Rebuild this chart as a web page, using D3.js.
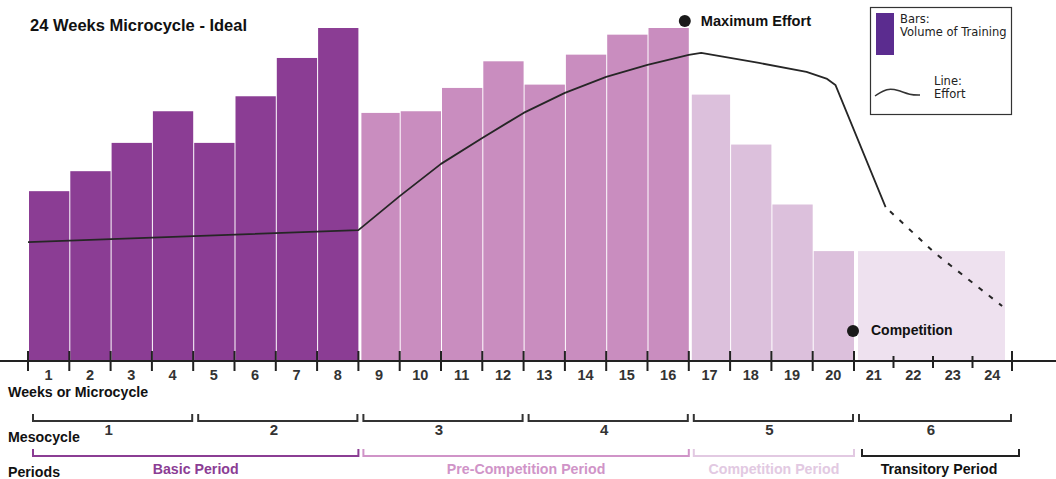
<!DOCTYPE html>
<html>
<head>
<meta charset="utf-8">
<script src="https://cdn.jsdelivr.net/npm/d3@7/dist/d3.min.js"></script>
<style>
  html, body { margin: 0; padding: 0; background: #fff; }
  svg { display: block; }
  text { font-family: "Liberation Sans", Arial, sans-serif; }
</style>
</head>
<body>
<svg id="chart" width="1056" height="479"></svg>
<script>
// ---- data ----
const weeks = d3.range(1, 25);
const volume = [51, 57, 65.5, 75, 65.5, 79.5, 91, 100,
                74.5, 75, 82, 90, 83, 92, 98, 100,
                80, 65, 47, 33,
                33, 33, 33, 33];
// effort line: [week position, relative value]
const effortSolid = [[0, 35.7], [8, 39.3], [9, 49.5], [10, 59.2], [11, 67], [12, 74.5],
                     [13, 80.5], [14, 85.3], [15, 88.9], [16, 91.9], [16.3, 92.5],
                     [17.7, 89.5], [18.85, 86.8], [19.35, 84.7], [19.55, 82.9], [20.8, 46.2]];
const effortDashed = [[20.8, 46.2], [22.05, 32.4], [23.75, 16.5]];
const periodNames = ["Basic Period", "Pre-Competition Period", "Competition Period", "Transitory Period"];
const periodStart = [0, 8, 16, 20];
const periodEnd = [8, 16, 20, 24];
const periodColors = ["#8B3D94", "#C98DBF", "#DCC0DC", "#EEE1EF"];
const periodTextColors = ["#8B3D94", "#D094C8", "#E2C9E2", "#111111"];
const mesoLabels = ["1", "2", "3", "4", "5", "6"];
const mesoStart = [0, 4, 8, 12, 16, 20];
const mesoEnd = [4, 8, 12, 16, 20, 24];

// ---- scales ----
const svg = d3.select("#chart");
const x = d3.scaleLinear().domain([0, 20, 24]).range([28, 854, 1012]);
const y = d3.scaleLinear().domain([0, 100]).range([361, 28]);
const periodOf = w => periodStart.findIndex((s, i) => w > s && w <= periodEnd[i]);

// ---- bars ----
const mainWeeks = weeks.filter(w => w <= 20);
svg.append("g").selectAll("rect").data(mainWeeks).join("rect")
  .attr("x", w => x(w - 1) + (periodStart.includes(w - 1) && w > 1 ? 3 : 1))
  .attr("width", w => x(w) - x(w - 1) - 1 - (periodStart.includes(w - 1) && w > 1 ? 2 : 0))
  .attr("y", w => y(volume[w - 1]))
  .attr("height", w => y(0) - y(volume[w - 1]))
  .attr("fill", w => periodColors[periodOf(w)]);
// transitory block (weeks 21-24 merged)
const transWeeks = weeks.filter(w => w > 20);
svg.append("rect")
  .attr("x", x(20) + 4)
  .attr("width", x(24) - x(20) - 11)
  .attr("y", y(d3.max(transWeeks, w => volume[w - 1])))
  .attr("height", y(0) - y(d3.max(transWeeks, w => volume[w - 1])))
  .attr("fill", periodColors[3]);

// ---- effort line ----
const line = d3.line().x(d => x(d[0])).y(d => y(d[1])).curve(d3.curveLinear);
svg.append("path").datum(effortSolid).attr("d", line)
  .attr("fill", "none").attr("stroke", "#262626").attr("stroke-width", 1.8)
  .attr("stroke-linejoin", "round");
svg.append("path").datum(effortDashed).attr("d", line)
  .attr("fill", "none").attr("stroke", "#262626").attr("stroke-width", 2)
  .attr("stroke-dasharray", "5,8").attr("stroke-dashoffset", -6);

// ---- x axis ----
svg.append("line").attr("x1", 0).attr("x2", 1056).attr("y1", 361).attr("y2", 361)
  .attr("stroke", "#222").attr("stroke-width", 2);
const boundaries = d3.range(0, 25);
svg.append("g").selectAll("line").data(boundaries).join("line")
  .attr("x1", d => x(d)).attr("x2", d => x(d))
  .attr("y1", d => (d > 20 && d < 24) ? 356 : 351)
  .attr("y2", d => (d > 20 && d < 24) ? 368 : 371)
  .attr("stroke", "#222").attr("stroke-width", 2);
svg.append("g").selectAll("text").data(weeks).join("text")
  .attr("x", w => (x(w - 1) + x(w)) / 2).attr("y", 380)
  .attr("text-anchor", "middle").attr("font-size", 14.5).attr("font-weight", "bold")
  .attr("fill", "#333").text(w => w);

// ---- row labels ----
const rowLabels = [["Weeks or Microcycle", 397], ["Mesocycle", 442], ["Periods", 477]];
svg.append("g").selectAll("text").data(rowLabels).join("text")
  .attr("x", 8).attr("y", d => d[1]).attr("font-size", 14.2).attr("font-weight", "bold")
  .attr("fill", "#111").text(d => d[0]);

// ---- mesocycle brackets ----
const bracket = (x0, x1, yb, h) => `M${x0},${yb - h}V${yb}H${x1}V${yb - h}`;
const meso = svg.append("g");
mesoLabels.forEach((m, i) => {
  const x0 = x(mesoStart[i]) + 5, x1 = x(mesoEnd[i]) - 1;
  meso.append("path").attr("d", bracket(x0, x1, 421, 7))
    .attr("fill", "none").attr("stroke", "#333").attr("stroke-width", 2);
  meso.append("text").attr("x", (x0 + x1) / 2 - 4).attr("y", 435)
    .attr("text-anchor", "middle").attr("font-size", 15).attr("font-weight", "bold")
    .attr("fill", "#333").text(m);
});

// ---- period brackets ----
const per = svg.append("g");
periodNames.forEach((p, i) => {
  const x0 = x(periodStart[i]) + 5, x1 = x(periodEnd[i]) + (i === 3 ? 7 : 0);
  per.append("path").attr("d", bracket(x0 + (i === 3 ? 3 : 0), x1, 456, 7))
    .attr("fill", "none").attr("stroke", i === 3 ? "#222" : periodTextColors[i]).attr("stroke-width", 2);
  per.append("text").attr("x", (x0 + x1) / 2).attr("y", 474)
    .attr("text-anchor", "middle").attr("font-size", 14.2).attr("font-weight", "bold")
    .attr("fill", periodTextColors[i]).text(p);
});

// ---- title ----
svg.append("text").attr("x", 30).attr("y", 31).attr("font-size", 16.5).attr("font-weight", "bold")
  .attr("fill", "#111").text("24 Weeks Microcycle - Ideal");

// ---- annotations ----
svg.append("circle").attr("cx", x(16) - 4).attr("cy", 21).attr("r", 6).attr("fill", "#1a1a1a");
svg.append("text").attr("x", x(16) + 12).attr("y", 26).attr("font-size", 14.6).attr("font-weight", "bold")
  .attr("fill", "#111").text("Maximum Effort");
svg.append("circle").attr("cx", x(20) - 1).attr("cy", 331).attr("r", 6).attr("fill", "#1a1a1a");
svg.append("text").attr("x", x(20) + 17).attr("y", 335).attr("font-size", 14).attr("font-weight", "bold")
  .attr("fill", "#111").text("Competition");

// ---- legend ----
const lg = svg.append("g");
lg.append("rect").attr("x", 870.5).attr("y", 7.5).attr("width", 141).attr("height", 107)
  .attr("fill", "#fff").attr("stroke", "#333").attr("stroke-width", 1.2);
lg.append("rect").attr("x", 876).attr("y", 13).attr("width", 18).attr("height", 42).attr("fill", "#5B2C8F");
const lgFont = "'DejaVu Sans', Verdana, sans-serif";
lg.append("text").attr("x", 900).attr("y", 23).attr("font-size", 11.5).style("font-family", lgFont)
  .attr("fill", "#222").text("Bars:");
lg.append("text").attr("x", 900).attr("y", 36).attr("font-size", 11.5).style("font-family", lgFont)
  .attr("fill", "#222").text("Volume of Training");
lg.append("text").attr("x", 934).attr("y", 85).attr("font-size", 11.5).style("font-family", lgFont)
  .attr("fill", "#222").text("Line:");
lg.append("text").attr("x", 934).attr("y", 98).attr("font-size", 11.5).style("font-family", lgFont)
  .attr("fill", "#222").text("Effort");
const wave = [[875, 96], [887, 88], [898, 90], [910, 95], [920, 95]];
lg.append("path").attr("d", d3.line().curve(d3.curveBasis)(wave))
  .attr("fill", "none").attr("stroke", "#333").attr("stroke-width", 1.5);
</script>
</body>
</html>
